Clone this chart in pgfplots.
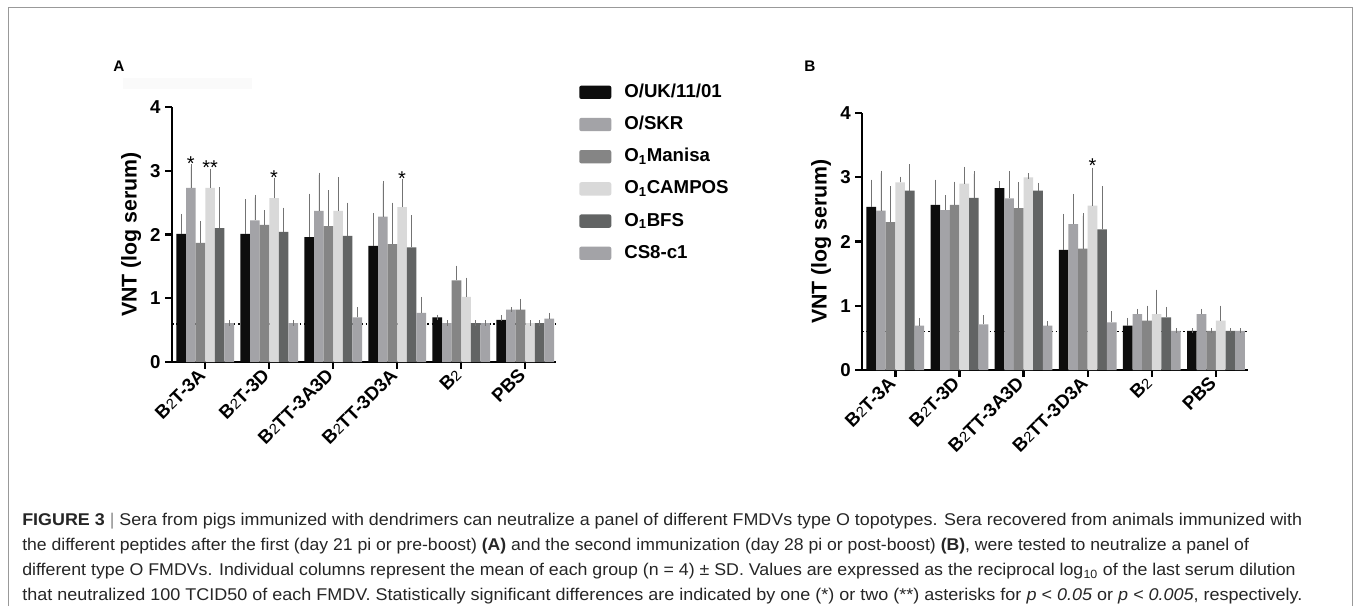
\documentclass[border=0pt]{standalone}
\usepackage{pgfplots}
\pgfplotsset{compat=1.18}
\usepackage{pgfplotstable}
\usepackage{graphicx}
\usepackage{fontspec}
\setmainfont{Liberation Sans}

\definecolor{cUK}{HTML}{0D0D0D}
\definecolor{cSKR}{HTML}{A3A3A7}
\definecolor{cMAN}{HTML}{858585}
\definecolor{cCAM}{HTML}{D9D9D9}
\definecolor{cBFS}{HTML}{626464}
\definecolor{cCS}{HTML}{A3A3A7}

\newcommand{\Bt}{B{\mdseries\fontsize{11}{11}\selectfont 2}}

% panel A: day 21 (pre-boost); values and +SD
\pgfplotstableread{
x uk ukE skr skrE man manE cam camE bfs bfsE cs csE
0 2.01 0.27 2.73 0.33 1.87 0.30 2.73 0.26 2.10 0.60 0.61 0
1 2.01 0.50 2.22 0.36 2.15 0.19 2.57 0.28 2.04 0.34 0.61 0
2 1.96 0.64 2.37 0.56 2.13 0.52 2.37 0.49 1.98 0.48 0.70 0.12
3 1.82 0.47 2.28 0.52 1.85 0.61 2.43 0.40 1.80 0.46 0.77 0.21
4 0.70 0    0.61 0    1.28 0.19 1.02 0.26 0.61 0    0.61 0
5 0.66 0.03 0.82 0    0.82 0.13 0.61 0    0.61 0    0.68 0.05
}\dataA

% panel B: day 28 (post-boost)
\pgfplotstableread{
x uk ukE skr skrE man manE cam camE bfs bfsE cs csE
0 2.54 0.38 2.48 0.58 2.30 0.52 2.92 0.05 2.79 0.37 0.69 0.08
1 2.57 0.35 2.49 0.19 2.57 0.32 2.90 0.22 2.68 0.37 0.71 0.10
2 2.83 0.07 2.67 0.38 2.52 0.36 3.00 0.02 2.79 0.08 0.69 0.03
3 1.87 0.52 2.27 0.43 1.89 0.51 2.56 0.55 2.19 0.63 0.74 0.13
4 0.69 0.08 0.87 0.04 0.77 0.19 0.87 0.34 0.82 0.12 0.61 0
5 0.61 0    0.87 0.04 0.61 0    0.77 0.19 0.61 0    0.61 0
}\dataB

\tikzset{astx/.style={anchor=base, inner sep=0pt, font=\fontsize{15}{15}\selectfont}}

\pgfplotsset{
  swatch/.style={fill=#1, draw=none,
    legend image code/.code={\fill[##1, draw=none, rounded corners=1.5pt] (0pt,-5pt) rectangle (24pt,5pt);}},
  vnt/.style={
    scale only axis, anchor=south west,
    ybar=0pt, bar width=0.15,
    xmin=-0.52, xmax=5.48, ymin=0, ymax=4, enlargelimits=false,
    axis x line*=bottom, axis y line*=left,
    axis line style={line width=1.8pt, -},
    tick align=outside, major tick length=5pt,
    every tick/.style={black, line width=1.8pt},
    xtick={0,...,5}, ytick={0,1,2,3,4},
    xticklabels={\Bt T-3A, \Bt T-3D, \Bt TT-3A3D, \Bt TT-3D3A, \Bt, PBS},
    xticklabel style={rotate=45, anchor=east, font=\bfseries\fontsize{14}{14}\selectfont},
    yticklabel style={font=\bfseries\fontsize{14}{14}\selectfont},
    /pgf/number format/assume math mode=true,
    ylabel={VNT (log serum)},
    ylabel style={font=\bfseries\fontsize{16}{16}\selectfont},
    every axis plot/.append style={
      error bars/y dir=plus, error bars/y explicit,
      error bars/error bar style={black!55, line width=0.5pt},
      error bars/error mark options={black!55, line width=0.5pt, mark size=2pt}},
  },
}

\begin{document}
\begin{tikzpicture}[x=0.75pt, y=0.75pt]
\path[fill=white] (0,0) rectangle (1356,606);
\draw[black!40, line width=0.75pt] (8,0) -- (8,598) -- (1352,598) -- (1352,0);
\fill[black!2] (123,517) rectangle (252,528);
\node[font=\bfseries\fontsize{11.5}{11.5}\selectfont] at (119,540) {A};
\node[font=\bfseries\fontsize{11.5}{11.5}\selectfont] at (810,540) {B};

\begin{axis}[vnt, at={(129pt,183pt)}, width=288pt, height=191.25pt,
  legend style={at={(1.06,1.094)}, anchor=north west, draw=none, fill=none,
    inner sep=0pt, font=\bfseries\fontsize{14}{14}\selectfont, row sep=10.65pt,
    nodes={inner sep=0pt, text height=10.5pt, text depth=3pt},
    /tikz/every odd column/.append style={column sep=9.75pt}},
  legend cell align=left]
\draw[black, dotted, line width=1.3pt] (axis cs:-0.52,0.6) -- (axis cs:5.48,0.6);
\addplot[swatch=cUK]  table[x=x, y=uk,  y error=ukE]  {\dataA};
\addplot[swatch=cSKR] table[x=x, y=skr, y error=skrE] {\dataA};
\addplot[swatch=cMAN] table[x=x, y=man, y error=manE] {\dataA};
\addplot[swatch=cCAM] table[x=x, y=cam, y error=camE] {\dataA};
\addplot[swatch=cBFS] table[x=x, y=bfs, y error=bfsE] {\dataA};
\addplot[swatch=cCS]  table[x=x, y=cs,  y error=csE]  {\dataA};
\legend{O/UK/11/01, O/SKR, O\textsubscript{1}Manisa, O\textsubscript{1}CAMPOS, O\textsubscript{1}BFS, CS8-c1}
\node[astx] at (axis cs:-0.225,3.01) {*};
\node[astx] at (axis cs:0.075,2.94) {**};
\node[astx] at (axis cs:1.075,2.79) {*};
\node[astx] at (axis cs:3.075,2.77) {*};
\end{axis}

\begin{axis}[vnt, at={(646.5pt,177pt)}, width=289.5pt, height=192.75pt, xmax=5.5]
\draw[black, dotted, line width=1.3pt] (axis cs:-0.52,0.6) -- (axis cs:5.5,0.6);
\addplot[swatch=cUK]  table[x=x, y=uk,  y error=ukE]  {\dataB};
\addplot[swatch=cSKR] table[x=x, y=skr, y error=skrE] {\dataB};
\addplot[swatch=cMAN] table[x=x, y=man, y error=manE] {\dataB};
\addplot[swatch=cCAM] table[x=x, y=cam, y error=camE] {\dataB};
\addplot[swatch=cBFS] table[x=x, y=bfs, y error=bfsE] {\dataB};
\addplot[swatch=cCS]  table[x=x, y=cs,  y error=csE]  {\dataB};
\node[astx] at (axis cs:3.075,3.07) {*};
\end{axis}

\begin{scope}[every node/.style={anchor=base west, inner sep=0pt, text=black!85}]
\node at (22,81) {\resizebox{960pt}{\height}{\fontsize{12.75}{15}\selectfont\textbf{FIGURE 3} {\color{black!45}|} Sera from pigs immunized with dendrimers can neutralize a panel of different FMDVs type O topotypes. Sera recovered from animals immunized with}};
\node at (22,56) {\resizebox{920pt}{\height}{\fontsize{12.75}{15}\selectfont the different peptides after the first (day 21 pi or pre-boost) \textbf{(A)} and the second immunization (day 28 pi or post-boost) \textbf{(B)}, were tested to neutralize a panel of}};
\node at (22,30.5) {\resizebox{955pt}{\height}{\fontsize{12.75}{15}\selectfont different type O FMDVs. Individual columns represent the mean of each group (n = 4) ± SD. Values are expressed as the reciprocal log\textsubscript{10} of the last serum dilution}};
\node at (22,5.5) {\resizebox{960pt}{\height}{\fontsize{12.75}{15}\selectfont that neutralized 100 TCID50 of each FMDV. Statistically significant differences are indicated by one (*) or two (**) asterisks for \textit{p < 0.05} or \textit{p < 0.005}, respectively.}};
\end{scope}
\end{tikzpicture}
\end{document}
